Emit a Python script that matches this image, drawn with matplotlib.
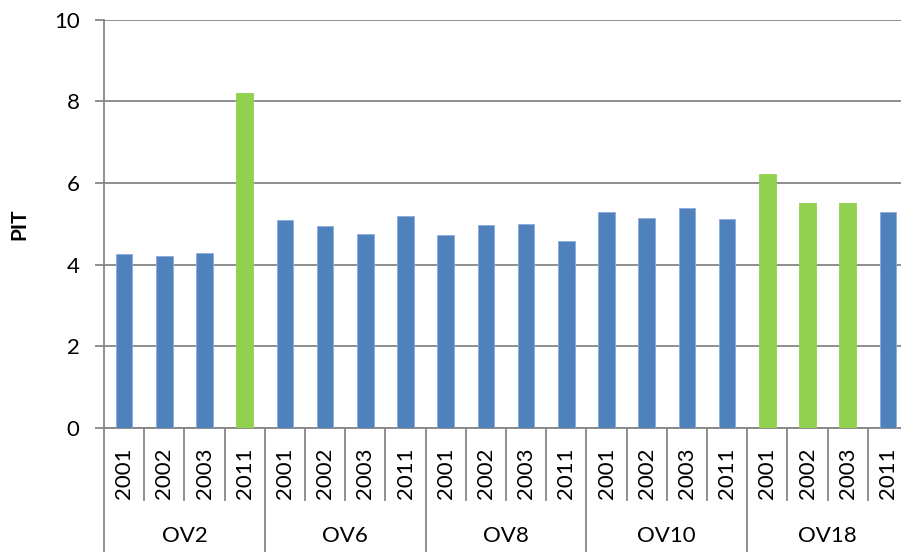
import matplotlib
matplotlib.use("Agg")
import matplotlib.pyplot as plt
from matplotlib.transforms import blended_transform_factory

plt.rcParams['font.family'] = ['Lato', 'DejaVu Sans']

groups = ["OV2", "OV6", "OV8", "OV10", "OV18"]
years = ["2001", "2002", "2003", "2011"]
values = [4.26, 4.20, 4.28, 8.20,
          5.08, 4.94, 4.76, 5.18,
          4.72, 4.98, 4.99, 4.58,
          5.29, 5.13, 5.38, 5.12,
          6.22, 5.51, 5.51, 5.29]
highlight = [False, False, False, True,
             False, False, False, False,
             False, False, False, False,
             False, False, False, False,
             True, True, True, False]

BLUE = "#4F81BD"
GREEN = "#92D050"
GRID = "#868686"

fig = plt.figure(figsize=(9.01, 5.52), dpi=100)
ax = fig.add_axes([104/901, (552-428)/552, (908-104)/901, (428-19.5)/552])

n = len(values)
xs = list(range(n))
colors = [GREEN if h else BLUE for h in highlight]
edges = ["#92D050" if h else "#8EAADB" for h in highlight]
ax.bar(xs, values, width=0.41, color=colors, edgecolor=edges, linewidth=0.6, zorder=3)

ax.set_xlim(-0.5, n - 0.5)
ax.set_ylim(0, 10)
ax.set_yticks(range(0, 11, 2))
ax.yaxis.grid(True, color=GRID, linewidth=1.3, zorder=0)
ax.set_xticks([])
for s in ["top", "right"]:
    ax.spines[s].set_visible(False)
for s in ["left", "bottom"]:
    ax.spines[s].set_color(GRID)
    ax.spines[s].set_linewidth(1.3)
ax.tick_params(axis="y", length=6.5, width=1.3, color=GRID, labelsize=16, pad=11)
ax.set_ylabel("PIT", fontsize=15, fontweight="bold", labelpad=18)

trans = blended_transform_factory(ax.transData, ax.transAxes)
H = 408.5
y_year_bot = -(500 - 428) / H
y_group_bot = -(560 - 428) / H
for i in range(n + 1):
    xb = i - 0.5
    if i % len(years) == 0:
        ax.plot([xb, xb], [0, y_group_bot], transform=trans, color=GRID, lw=1.3, clip_on=False)
    else:
        ax.plot([xb, xb], [0, y_year_bot], transform=trans, color=GRID, lw=1.3, clip_on=False)

for i in range(n):
    ax.text(i, -(473 - 428) / H, years[i % len(years)], transform=trans, rotation=90,
            ha="center", va="center", fontsize=16)

for g, name in enumerate(groups):
    xc = g * len(years) + (len(years) - 1) / 2
    ax.text(xc, -(536 - 428) / H, name, transform=trans, ha="center", va="center", fontsize=16)

fig.savefig("out.png", dpi=100)
